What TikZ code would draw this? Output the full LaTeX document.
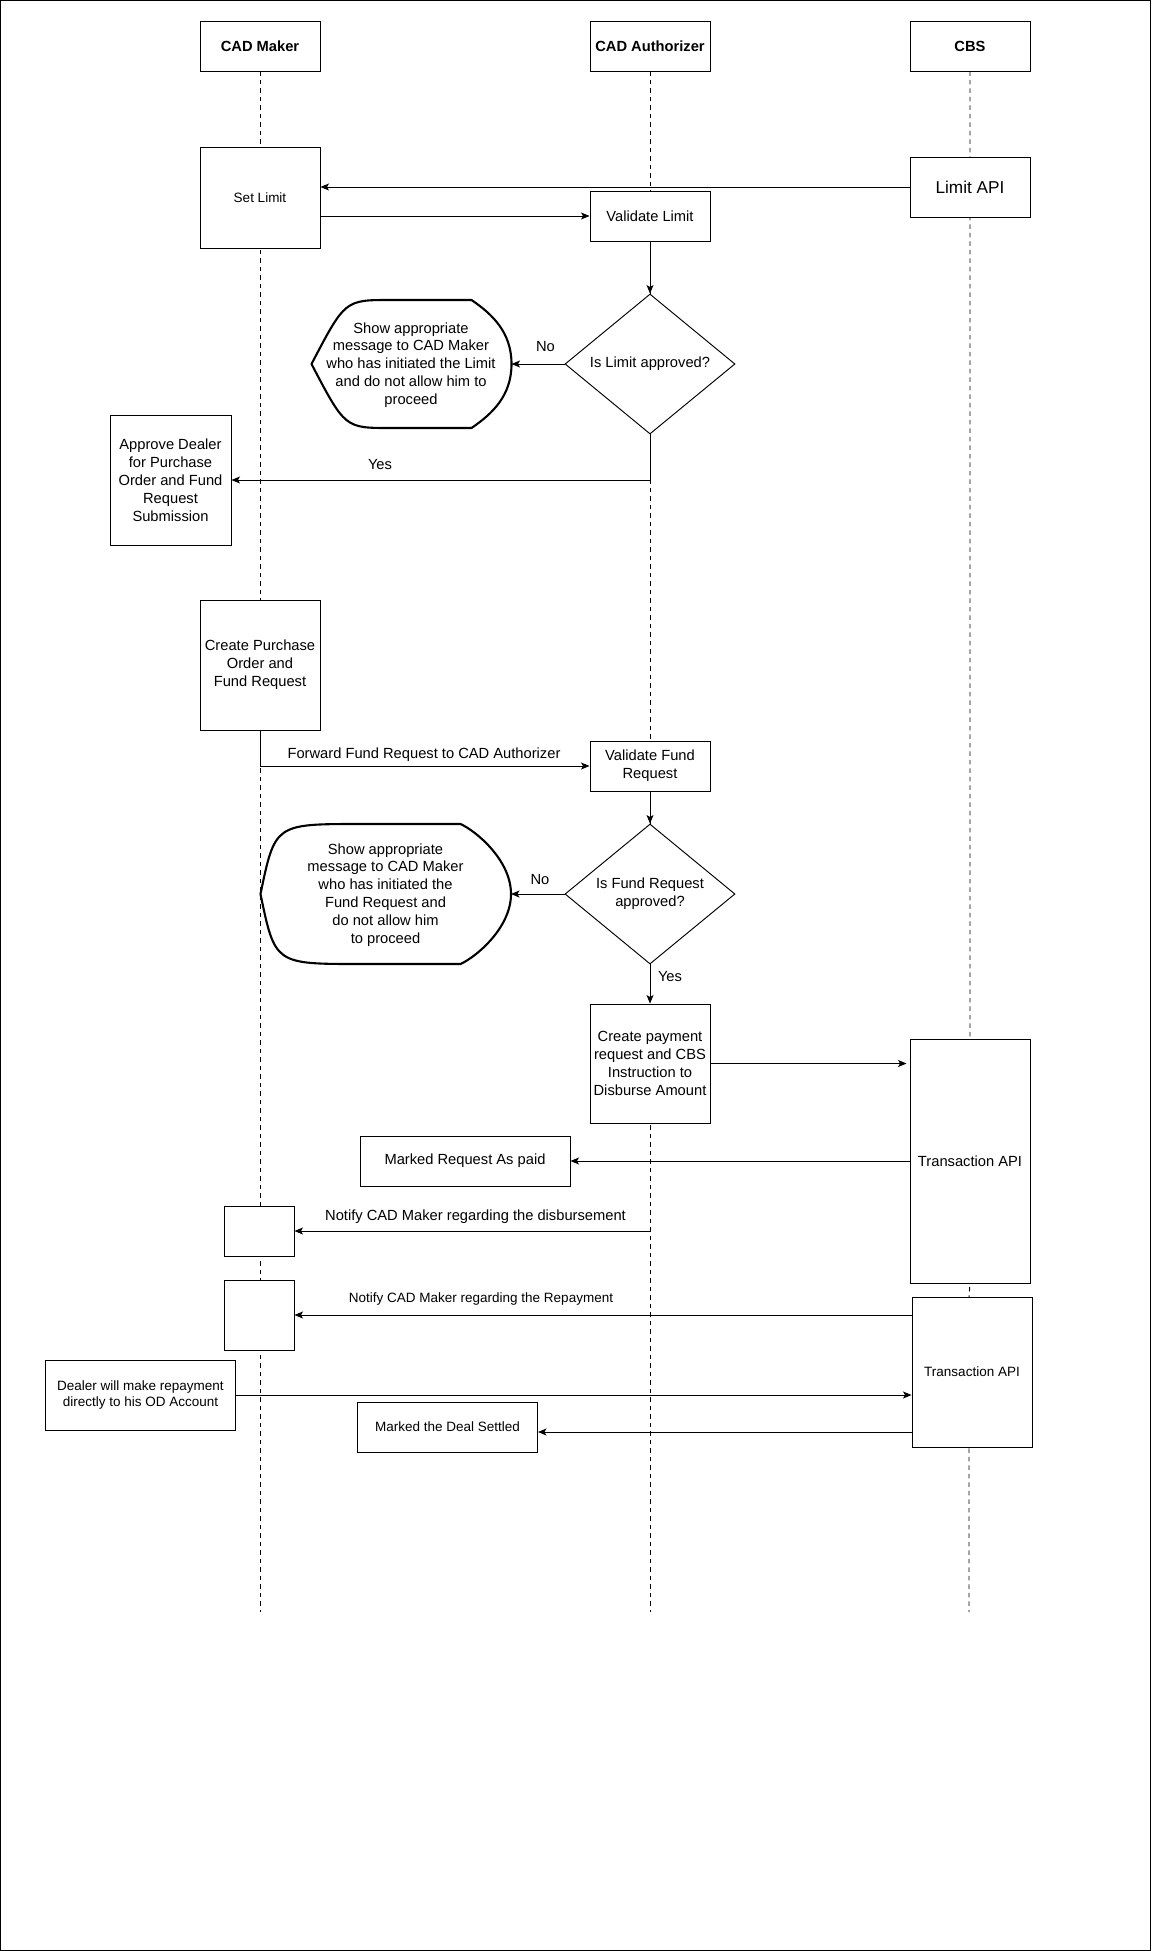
\documentclass[tikz,border=0pt]{standalone}
\usepackage{fontspec}
\setmainfont{Liberation Sans}
\usetikzlibrary{arrows.meta,shapes.geometric,calc}
\newcommand{\fA}{\fontsize{14.7}{17.9}\selectfont}
\newcommand{\fB}{\fontsize{13.5}{16.5}\selectfont}
\newcommand{\fC}{\fontsize{17.2}{20.6}\selectfont}
\begin{document}
\begin{tikzpicture}[x=1pt,y=-1pt,
  box/.style={draw, line width=0.95pt, fill=white, inner sep=0pt, align=center, font=\fA},
  life/.style={line width=0.95pt, dash pattern=on 4.5pt off 4pt},
  arr/.style={line width=0.95pt, -{Stealth[length=8.5pt,width=7pt,inset=2pt]}},
  lbl/.style={inner sep=0pt, align=center, font=\fA},
  msgshape/.style={line width=2.1pt, fill=white, line join=round}]
\useasboundingbox (0,0) rectangle (1151,1951);
\draw[line width=1.2pt] (0.6,0.6) rectangle (1150.4,1950.4);

% headers
\node[box, font=\fA\bfseries, minimum width=120pt, minimum height=50pt] (hMaker) at (260,46) {CAD Maker};
\node[box, font=\fA\bfseries, minimum width=120pt, minimum height=50pt] (hAuth) at (650,46) {CAD Authorizer};
\node[box, font=\fA\bfseries, minimum width=120pt, minimum height=50pt] (hCBS) at (970,46) {CBS};

% lifelines
\coordinate (mEnd) at (260,1612);
\coordinate (aEnd) at (650,1612);
\coordinate (cA) at (970,1283);
\coordinate (cB) at (969,1297);
\coordinate (cEnd) at (969,1612);
\draw[life] (hMaker.south) -- (mEnd);
\draw[life] (hAuth.south) -- (aEnd);
\draw[life] (hCBS.south) -- (cA) -- (cB) -- (cEnd);

% boxes
\node[box, font=\fB, minimum width=120pt, minimum height=101pt] (setlimit) at (260,197.5) {Set Limit};
\node[box, font=\fC, minimum width=120pt, minimum height=60pt] (limitapi) at (970,187) {Limit API};
\node[box, minimum width=120pt, minimum height=50pt] (vlimit) at (650,216) {Validate Limit};
\node[box, diamond, minimum width=170pt, minimum height=140pt] (d1) at (650,364) {Is Limit approved?};
\node[box, minimum width=121pt, minimum height=130pt] (approve) at (170.5,480) {Approve Dealer\\for Purchase\\Order and Fund\\Request\\Submission};
\node[box, minimum width=120pt, minimum height=130pt] (create) at (260,665) {Create Purchase\\Order and\\Fund Request};
\node[box, minimum width=120pt, minimum height=50pt] (vfund) at (650,766) {Validate Fund\\Request};
\node[box, diamond, minimum width=170pt, minimum height=140pt] (d2) at (650,894) {Is Fund Request\\approved?};
\node[box, minimum width=120pt, minimum height=119pt] (cpay) at (650,1063.5) {Create payment\\request and CBS\\Instruction to\\Disburse Amount};
\node[box, minimum width=120pt, minimum height=244pt] (tapi1) at (970,1161) {Transaction API};
\node[box, minimum width=210pt, minimum height=50pt] (marked) at (465,1161) {Marked Request As paid};
\node[box, minimum width=70pt, minimum height=50pt] (nb1) at (259,1231) {};
\node[box, minimum width=70pt, minimum height=70pt] (nb2) at (259,1315) {};
\node[box, font=\fB, minimum width=120pt, minimum height=150pt] (tapi2) at (972,1372) {Transaction API};
\node[box, font=\fB, minimum width=190pt, minimum height=70pt] (dealer) at (140.5,1395) {Dealer will make repayment\\directly to his OD Account};
\node[box, font=\fB, minimum width=180pt, minimum height=50pt] (settled) at (447.5,1427) {Marked the Deal Settled};

% message shapes
\draw[msgshape] (311.5,364) .. controls (345,300) .. (390,300) -- (471.5,300)
  .. controls (492,314) and (511.5,332) .. (511.5,364)
  .. controls (511.5,396) and (492,414) .. (471.5,428) -- (390,428)
  .. controls (345,428) .. (311.5,364) -- cycle;
\node[lbl] (msg1) at (411,365) {Show appropriate\\message to CAD Maker\\who has initiated the Limit\\and do not allow him to\\proceed};
\coordinate (msg1E) at (511.5,364);

\draw[msgshape] (260.5,894) .. controls (275,824) .. (360,824) -- (460.5,824)
  .. controls (476,831) and (511,860) .. (511,894)
  .. controls (511,928) and (476,957) .. (460.5,964) -- (360,964)
  .. controls (275,964) .. (260.5,894) -- cycle;
\node[lbl] (msg2) at (385.5,895) {Show appropriate\\message to CAD Maker\\who has initiated the\\Fund Request and\\do not allow him\\to proceed};
\coordinate (msg2E) at (511,894);

% labels
\node[lbl] (no1) at (545.5,347) {No};
\node[lbl] (yes1) at (380,464.5) {Yes};
\node[lbl] (fwd) at (424,755) {Forward Fund Request to CAD Authorizer};
\node[lbl] (no2) at (540,880) {No};
\node[lbl] (yes2) at (670,977) {Yes};
\node[lbl] (ndis) at (475.5,1217) {Notify CAD Maker regarding the disbursement};
\node[lbl, font=\fB] (nrep) at (481,1298.5) {Notify CAD Maker regarding the Repayment};

% connectors
\draw[arr] (limitapi.west) -- (limitapi.west -| setlimit.east);
\draw[arr] (setlimit.east |- vlimit.west) -- (vlimit.west);
\draw[arr] (vlimit.south) -- (vlimit.south |- d1.north);
\draw[arr] (d1.west) -- (msg1E);
\draw[arr] (d1.south) |- (approve.east);
\draw[arr] (create.south) |- (vfund.west);
\draw[arr] (vfund.south) -- (vfund.south |- d2.north);
\draw[arr] (d2.west) -- (msg2E);
\draw[arr] (d2.south) -- (d2.south |- cpay.north);
\draw[arr, shorten >=3pt] (cpay.east) -- (cpay.east -| tapi1.west);
\draw[arr] (tapi1.west) -- (marked.east);
\coordinate (aN) at (650,1231);
\draw[arr] (aN) -- (nb1.east);
\draw[arr] (tapi2.west |- nb2.east) -- (nb2.east);
\draw[arr] (dealer.east) -- (dealer.east -| tapi2.west);
\draw[arr] ($(tapi2.west)+(0,60)$) -- ($(settled.east)+(0,5)$);
\end{tikzpicture}
\end{document}
